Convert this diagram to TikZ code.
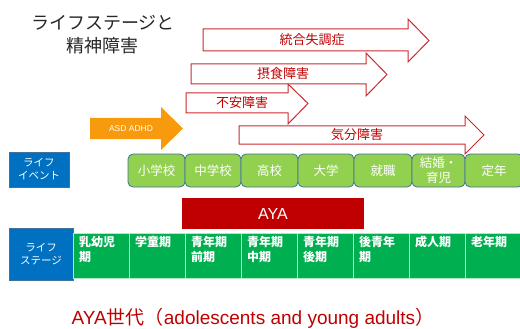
\documentclass[tikz,border=0pt]{standalone}
\usepackage{fontspec}
\setmainfont{Noto Sans CJK JP}
\newfontfamily\lat{Liberation Sans}
\definecolor{arrred}{HTML}{CC2A32}
\definecolor{txtred}{HTML}{C00000}
\definecolor{evgreen}{HTML}{92D050}
\definecolor{evborder}{HTML}{41719C}
\definecolor{stgreen}{HTML}{00B050}
\definecolor{lblue}{HTML}{0070C0}
\definecolor{ayared}{HTML}{C00000}
\definecolor{asdorange}{HTML}{F79A0E}
\tikzset{
  rarrow/.style={draw=arrred, fill=white, line width=1pt, line join=miter},
  rlabel/.style={text=txtred, font=\fontsize{13}{15}\selectfont, inner sep=0},
  evbox/.style={draw=evborder, fill=evgreen, line width=0.8pt, rounded corners=5pt, text=white,
    font=\fontsize{12.5}{14}\selectfont, align=center, minimum height=33pt, inner sep=0},
  stcell/.style={draw=white!70!stgreen, fill=stgreen, line width=0.8pt},
  bluelbl/.style={draw=evborder, fill=lblue, line width=0.8pt, text=white,
    font=\fontsize{10.5}{13}\selectfont, align=center, inner sep=0},
}
\begin{document}
\begin{tikzpicture}[x=1pt,y=-1pt]
\useasboundingbox (0,0) rectangle (520,329);

% title
\node[font=\fontsize{18}{23}\selectfont, text=black!85, align=center, inner sep=0] (title) at (103,35) {ライフステージと\\精神障害};

% life event label
\node[bluelbl, minimum width=60pt, minimum height=35pt] (evlbl) at (39,169.5) {ライフ\\イベント};

% event boxes
\node[evbox, minimum width=57pt] (e1) at (156.5,170.5) {小学校};
\node[evbox, minimum width=56pt] (e2) at (213,170.5) {中学校};
\node[evbox, minimum width=57pt] (e3) at (269.5,170.5) {高校};
\node[evbox, minimum width=56pt] (e4) at (326,170.5) {大学};
\node[evbox, minimum width=58pt] (e5) at (383,170.5) {就職};
\node[evbox, minimum width=53pt, font=\fontsize{12.5}{15}\selectfont] (e6) at (438.5,170.5) {結婚・\\育児};
\node[evbox, minimum width=58pt] (e7) at (494,170.5) {定年};

% AYA box
\node[fill=ayared, minimum width=182pt, minimum height=31pt, inner sep=0, text=white, font=\lat\fontsize{16}{18}\selectfont] (aya) at (273,213.5) {AYA};

% life stage label
\node[bluelbl, minimum width=64pt, minimum height=52pt] (stlbl) at (41,254) {ライフ\\ステージ};

% stage cells
\foreach \xa/\xb/\t [count=\i] in {73/129/{乳幼児\\期},129/185/{学童期},185/241/{青年期\\前期},241/297/{青年期\\中期},297/353/{青年期\\後期},353/409/{後青年\\期},409/465/{成人期},465/521/{老年期}}{
  \path[stcell] (\xa,233) rectangle (\xb,278);
  \node[anchor=north west, text=white, font=\bfseries\fontsize{12}{15}\selectfont, align=left, inner sep=0] (s\i) at (\xa+6,236) {\t};
}

% ASD ADHD arrow
\fill[asdorange] (90,118) -- (161,118) -- (161,107) -- (183,128.5) -- (161,150) -- (161,139) -- (90,139) -- cycle;
\node[text=white, font=\lat\fontsize{8.5}{10}\selectfont, inner sep=0] (asd) at (131,128.5) {ASD ADHD};

% disorder arrows
\draw[rarrow] (203,29) -- (408,29) -- (408,19) -- (429,40.5) -- (408,62) -- (408,51) -- (203,51) -- cycle;
\node[rlabel] (a1) at (312,40) {統合失調症};

\draw[rarrow] (191,64) -- (366,64) -- (366,53) -- (387,74.5) -- (366,96) -- (366,84) -- (191,84) -- cycle;
\node[rlabel] (a2) at (283,74) {摂食障害};

\draw[rarrow] (186,93) -- (288,93) -- (288,84) -- (308,103.5) -- (288,124) -- (288,113) -- (186,113) -- cycle;
\node[rlabel] (a3) at (242,103) {不安障害};

\draw[rarrow] (239,126) -- (465,126) -- (465,116) -- (484,135) -- (465,154) -- (465,144) -- (239,144) -- cycle;
\node[rlabel] (a4) at (357,135) {気分障害};

% bottom caption
\node[text=txtred, inner sep=0, font=\fontsize{19}{22}\selectfont] (cap) at (253,318) {{\lat AYA}世代（{\lat adolescents and young adults}）};
\end{tikzpicture}
\end{document}
